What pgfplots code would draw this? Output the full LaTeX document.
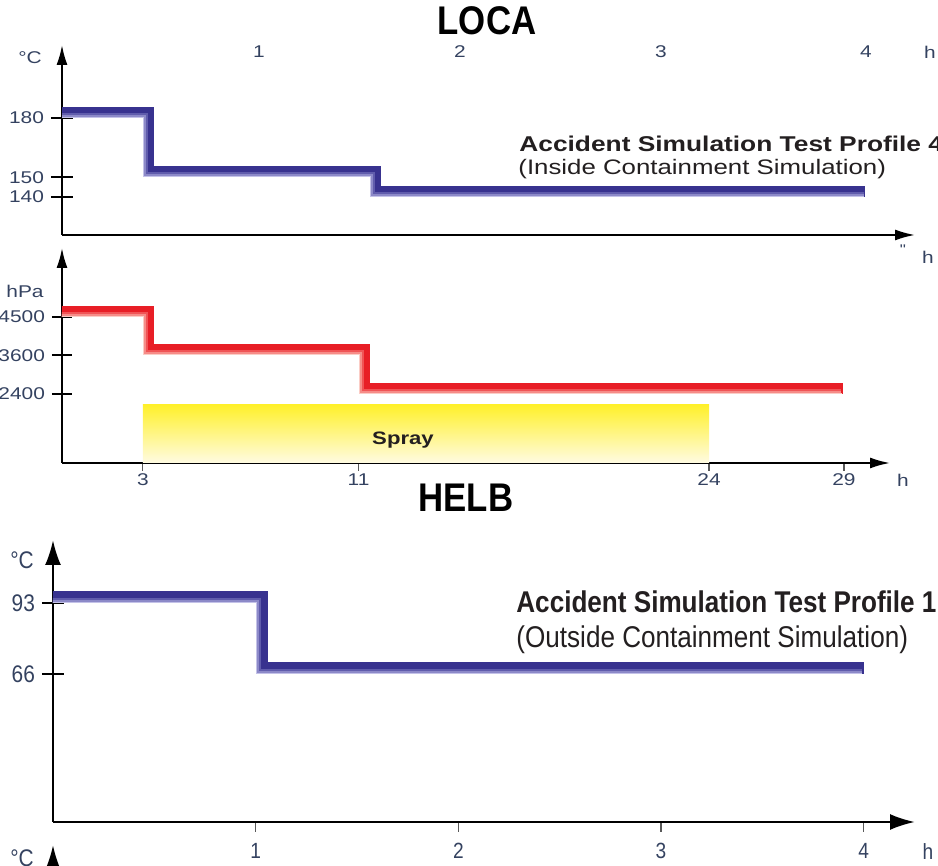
\documentclass[border=0pt]{standalone}
\usepackage{fontspec}
\setmainfont{Liberation Sans}
\newfontfamily\wide[FakeStretch=1.23]{Liberation Sans}
\newfontfamily\narrow[FakeStretch=0.87]{Liberation Sans}
\usepackage{pgfplots}
\pgfplotsset{compat=1.18}
\usetikzlibrary{arrows.meta}
\definecolor{labcol}{RGB}{52,66,96}
\definecolor{blueD}{RGB}{56,50,143}
\definecolor{blueM}{RGB}{96,92,172}
\definecolor{blueN}{RGB}{140,137,200}
\definecolor{blueL}{RGB}{196,194,232}
\definecolor{redD}{RGB}{232,30,38}
\definecolor{redM}{RGB}{240,84,86}
\definecolor{redN}{RGB}{246,140,136}
\definecolor{redL}{RGB}{251,205,198}
\definecolor{sprayT}{RGB}{255,240,40}
\definecolor{sprayB}{RGB}{255,251,226}
\definecolor{txt}{RGB}{35,31,32}
\newcommand\fs[1]{\fontsize{#1}{#1}\selectfont}

\pgfplotsset{
  bandD/.style={const plot, mark=none, line width=#1, color=blueD, xshift=0.5*#1, yshift=0.5*#1},
  bandM/.style={const plot, mark=none, line width=2.6pt, color=blueM, xshift=1.3pt, yshift=1.3pt},
  bandN/.style={const plot, mark=none, line width=1.6pt, color=blueN, xshift=0.8pt, yshift=0.8pt},
  bandL/.style={const plot, mark=none, line width=0.7pt, color=blueL, xshift=0.35pt, yshift=0.35pt},
  rbandD/.style={const plot, mark=none, line width=5.5pt, color=redD, xshift=2.75pt, yshift=2.75pt},
  rbandM/.style={const plot, mark=none, line width=2.6pt, color=redM, xshift=1.3pt, yshift=1.3pt},
  rbandN/.style={const plot, mark=none, line width=1.6pt, color=redN, xshift=0.8pt, yshift=0.8pt},
  rbandL/.style={const plot, mark=none, line width=0.7pt, color=redL, xshift=0.35pt, yshift=0.35pt},
}

\begin{document}
\begin{tikzpicture}
\useasboundingbox (0,0) rectangle (469pt,433pt);
\clip (0,0) rectangle (469pt,433pt);

% ---------- Panel 1: LOCA temperature ----------
\begin{axis}[
  at={(31pt,315.5pt)}, anchor=south west, scale only axis,
  width=426.5pt, height=95pt,
  xmin=0, xmax=31.6, ymin=120.8, ymax=217,
  axis lines=left,
  axis line style={line width=1pt, -{Latex[length=10pt,width=5.5pt]}},
  xtick=\empty,
  ytick={140,150,180}, yticklabels={140,150,180},
  tick align=center, major tick length=11pt,
  ytick style={line width=1pt, black},
  yticklabel style={font=\wide\fs{8.5pt}, text=labcol, anchor=east},
  /pgf/number format/assume math mode=true,
]
\addplot[bandD=5.5pt] coordinates {(-0.3,180) (3.0,150) (11.4,140) (29.55,140)};
\addplot[bandM] coordinates {(-0.3,180) (3.0,150) (11.4,140) (29.6,140)};
\addplot[bandN] coordinates {(-0.3,180) (3.0,150) (11.4,140) (29.65,140)};
\addplot[bandL] coordinates {(-0.3,180) (3.0,150) (11.4,140) (29.7,140)};
\end{axis}

% ---------- Panel 2: LOCA pressure ----------
\begin{axis}[
  at={(31pt,201.5pt)}, anchor=south west, scale only axis,
  width=414pt, height=107.5pt,
  y coord trafo/.code={\pgfmathparse{(#1<3600)?((#1-2400)/1200):(1+(#1-3600)/900)}},
  y coord inv trafo/.code={\pgfmathparse{(#1<1)?(2400+1200*#1):(3600+900*(#1-1))}},
  xmin=0, xmax=30.71, ymin=250, ymax=6113,
  axis lines=left,
  axis line style={line width=1pt, -{Latex[length=10pt,width=5.5pt]}},
  xtick={3,11,24,29}, xticklabels={3,11,24,29},
  ytick={2400,3600,4500}, yticklabels={2400,3600,4500},
  tick align=center, major tick length=10pt,
  xtick align=outside,
  xtick style={/pgfplots/major tick length=4pt, line width=0.6pt, gray!70!black},
  ytick style={line width=1pt, black},
  yticklabel style={font=\wide\fs{8.5pt}, text=labcol, anchor=east},
  xticklabel style={font=\wide\fs{8.5pt}, text=labcol, yshift=8pt},
  /pgf/number format/assume math mode=true,
]
\addplot[draw=none, shading=axis, top color=sprayT, bottom color=sprayB] coordinates {(3,250) (3,2088) (24,2088) (24,250)} -- cycle;
\addplot[rbandD] coordinates {(-0.3,4500) (3,3600) (11,2400) (28.75,2400)};
\addplot[rbandM] coordinates {(-0.3,4500) (3,3600) (11,2400) (28.8,2400)};
\addplot[rbandN] coordinates {(-0.3,4500) (3,3600) (11,2400) (28.85,2400)};
\addplot[rbandL] coordinates {(-0.3,4500) (3,3600) (11,2400) (28.9,2400)};
\end{axis}

% ---------- Panel 3: HELB temperature ----------
\begin{axis}[
  at={(26.5pt,22pt)}, anchor=south west, scale only axis,
  width=431pt, height=141pt,
  xmin=0, xmax=4.253, ymin=9.7, ymax=117,
  axis lines=left,
  axis line style={line width=1.2pt, -{Latex[length=12.5pt,width=8pt]}},
  xtick={1,2,3,4}, xticklabels={1,2,3,4},
  ytick={66,93}, yticklabels={66,93},
  tick align=center, major tick length=11pt,
  xtick align=outside,
  xtick style={/pgfplots/major tick length=5pt, line width=0.6pt, gray!70!black},
  ytick style={line width=1.2pt, black},
  yticklabel style={font=\narrow\fs{12pt}, text=labcol, anchor=east},
  xticklabel style={font=\narrow\fs{11pt}, text=labcol, yshift=4pt},
  /pgf/number format/assume math mode=true,
]
\addplot[bandD=6pt] coordinates {(-0.05,93) (1,66) (3.97,66)};
\addplot[bandM] coordinates {(-0.05,93) (1,66) (3.98,66)};
\addplot[bandN] coordinates {(-0.05,93) (1,66) (3.985,66)};
\addplot[bandL] coordinates {(-0.05,93) (1,66) (3.99,66)};
\end{axis}

% ---------- Panel 4: start of the next chart (cut off) ----------
\begin{axis}[
  at={(26.5pt,-50pt)}, anchor=south west, scale only axis,
  width=5pt, height=60.5pt,
  xmin=0, xmax=1, ymin=0, ymax=1,
  axis x line=none, axis y line=left,
  axis line style={line width=1.2pt, -{Latex[length=12.5pt,width=8pt]}},
  xtick=\empty, ytick=\empty,
]
\end{axis}

% ---------- Texts ----------
\node[font=\narrow\bfseries\fs{20pt}] at (243.5pt,422.5pt) {LOCA};
\node[font=\narrow\bfseries\fs{20pt}] at (233pt,184pt) {HELB};
\begin{scope}[every node/.style={font=\wide\fs{8.5pt}, text=labcol}]
  \node at (129.5pt,407pt) {1};
  \node at (230pt,407pt) {2};
  \node at (330.5pt,407pt) {3};
  \node at (433pt,407pt) {4};
  \node at (465pt,407pt) {h};
  \node at (15pt,404pt) {°C};
  \node at (464pt,304.5pt) {h};
  \node[font=\wide\fs{7pt}] at (451.5pt,308pt) {"};
  \node at (12.5pt,287.5pt) {hPa};
  \node at (451.5pt,193pt) {h};
\end{scope}
\node[font=\wide\bfseries\fs{9pt}, text=txt] at (201.5pt,213pt) {Spray};
\node[font=\wide\bfseries\fs{10.7pt}, text=txt, anchor=base west, inner sep=0pt] at (259.5pt,357pt) {Accident Simulation Test Profile 4};
\node[font=\wide\fs{10.5pt}, text=txt, anchor=base west, inner sep=0pt] at (259pt,345.5pt) {(Inside Containment Simulation)};
\node[font=\narrow\bfseries\fs{15pt}, text=txt, anchor=base west, inner sep=0pt] at (258pt,126.5pt) {Accident Simulation Test Profile 1};
\node[font=\narrow\fs{15pt}, text=txt, anchor=base west, inner sep=0pt] at (258pt,109pt) {(Outside Containment Simulation)};
\begin{scope}[every node/.style={font=\narrow\fs{12pt}, text=labcol}]
  \node at (11pt,153pt) {°C};
  \node at (11pt,4pt) {°C};
  \node[font=\narrow\fs{11pt}] at (464pt,7pt) {h};
\end{scope}
\end{tikzpicture}
\end{document}
